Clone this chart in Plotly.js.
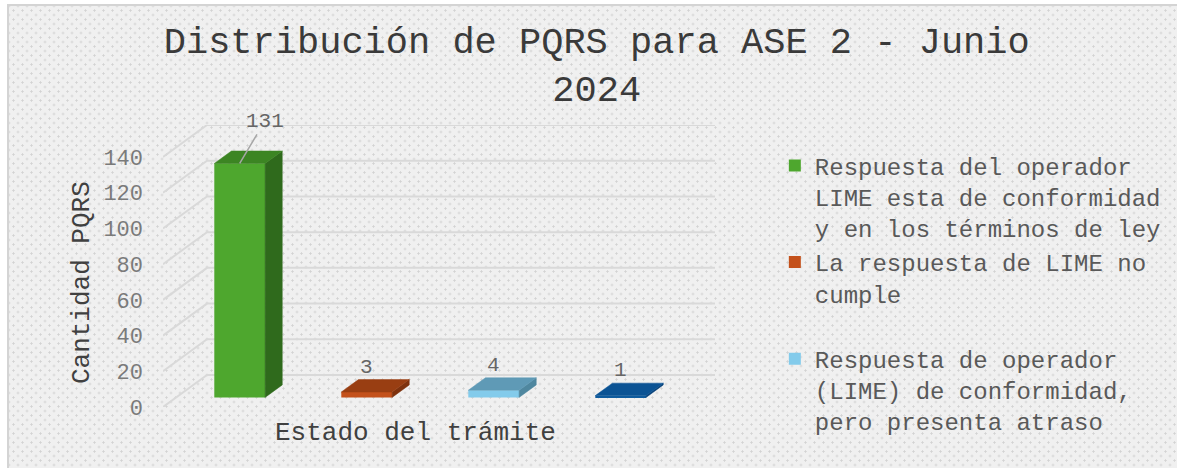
<!DOCTYPE html>
<html>
<head>
<meta charset="utf-8">
<script src="https://cdn.plot.ly/plotly-3.0.1.min.js"></script>
<style>
  html, body { margin: 0; padding: 0; background: #ffffff; width: 1177px; height: 468px; overflow: hidden; }
  #bg {
    position: absolute; left: 7px; top: 4px; width: 1170px; height: 464px;
    border-left: 2px solid #d4d4d4; border-top: 2px solid #d4d4d4;
    background-color: #f0f0f0;
    background-image:
      radial-gradient(circle, #d3d3d3 0.9px, rgba(0,0,0,0) 1.3px),
      radial-gradient(circle, #d3d3d3 0.9px, rgba(0,0,0,0) 1.3px);
    background-size: 9px 9px, 9px 9px;
    background-position: 0 0, 4.5px 4.5px;
  }
  #chart { position: absolute; left: 0; top: 0; width: 1177px; height: 468px; }
</style>
</head>
<body>
<div id="bg"></div>
<div id="chart"></div>
<script>
// ---------- data ----------
const categories = [
  'Respuesta del operador LIME esta de conformidad y en los términos de ley',
  'La respuesta de LIME no cumple',
  'Respuesta de operador (LIME) de conformidad, pero presenta atraso',
  'Otro'
];
const legendLabels = [
  'Respuesta del operador<br>LIME esta de conformidad<br>y en los términos de ley',
  'La respuesta de LIME no<br>cumple<br> ',
  'Respuesta de operador<br>(LIME) de conformidad,<br>pero presenta atraso',
  'Otro'
];
const values = [131, 3, 4, 1];
const yTicks = [0, 20, 40, 60, 80, 100, 120, 140];
const yTickText = ['0', '20', '40', '60', '80', '100', '120', '140'];

// ---------- styles ----------
const frontColors = ['#4ea72e', '#c4511b', '#83cbeb', '#0f5c9e'];
const topColors   = ['#3c8523', '#993e12', '#5f9ab6', '#0b5394'];
const sideColors  = ['#2f6a1c', '#7e320e', '#4f879f', '#08427a'];
const FONT = '"Courier New", "Liberation Mono", monospace';

// oblique projection parameters (axis units)
const DX = 0.3465;   // x shift for full depth
const DY = 17.92;    // y shift for full depth (value units)
const D0 = 0.30, D1 = 0.69;  // bar front / back depth fractions
const HALF = 0.2;    // half bar width
const n = values.length;
const left = -0.5, right = n - 0.5;

const traces = [];

// gridlines as shapes below the data: diagonal on the side wall + horizontal on the back wall
const shapes = yTicks.map(t => ({
  type: 'path', xref: 'x', yref: 'y', layer: 'below',
  path: 'M ' + left + ',' + t + ' L ' + (left + DX) + ',' + (t + DY) + ' L ' + (right + DX) + ',' + (t + DY),
  line: { color: '#d9d9d9', width: 2 }
}));

values.forEach((v, i) => {
  const xl0 = i - HALF + D0 * DX, xr0 = i + HALF + D0 * DX;
  const xl1 = i - HALF + D1 * DX, xr1 = i + HALF + D1 * DX;
  // side face
  traces.push({
    type: 'scatter', mode: 'lines', fill: 'toself',
    x: [xr0, xr1, xr1, xr0, xr0],
    y: [D0 * DY, D1 * DY, v + D1 * DY, v + D0 * DY, D0 * DY],
    line: { color: sideColors[i], width: 0.5 }, fillcolor: sideColors[i],
    showlegend: false, hoverinfo: 'skip'
  });
  // top face
  traces.push({
    type: 'scatter', mode: 'lines', fill: 'toself',
    x: [xl0, xr0, xr1, xl1, xl0],
    y: [v + D0 * DY, v + D0 * DY, v + D1 * DY, v + D1 * DY, v + D0 * DY],
    line: { color: topColors[i], width: 0.5 }, fillcolor: topColors[i],
    showlegend: false, hoverinfo: 'skip'
  });
  // front face (the bar itself)
  traces.push({
    type: 'bar', x: [i + D0 * DX], y: [v], base: [D0 * DY], width: [2 * HALF],
    marker: { color: frontColors[i], line: { width: 0 } },
    name: legendLabels[i], legendgroup: 'g' + i,
    showlegend: i < 3,
    hovertext: [categories[i] + ': ' + v], hoverinfo: 'text'
  });
});

// data labels
const annotations = values.map((v, i) => {
  if (i === 0) {
    return {
      x: i + D0 * DX, y: v + D0 * DY, xref: 'x', yref: 'y',
      text: String(v), showarrow: true, arrowhead: 0, arrowwidth: 1.5,
      arrowcolor: '#a6a6a6', ax: 25, ay: -42,
      font: { family: FONT, size: 21, color: '#666666' }
    };
  }
  return {
    x: i + D0 * DX, y: v + D1 * DY + 7, xref: 'x', yref: 'y',
    text: String(v), showarrow: false, yanchor: 'middle',
    font: { family: FONT, size: 21, color: '#666666' }
  };
});
// axis titles
annotations.push({
  xref: 'paper', yref: 'paper', x: 0.4575, y: -0.092,
  text: 'Estado del trámite', showarrow: false,
  xanchor: 'center', yanchor: 'middle',
  font: { family: FONT, size: 26, color: '#404040' }
});
annotations.push({
  xref: 'paper', yref: 'paper', x: -0.1465, y: 0.44,
  text: 'Cantidad PQRS', showarrow: false, textangle: -90,
  xanchor: 'center', yanchor: 'middle',
  font: { family: FONT, size: 26, color: '#404040' }
});

const layout = {
  width: 1177, height: 468,
  paper_bgcolor: 'rgba(0,0,0,0)', plot_bgcolor: 'rgba(0,0,0,0)',
  margin: { l: 163, r: 461, t: 125, b: 61, pad: 0 },
  barmode: 'overlay',
  title: {
    text: 'Distribución de PQRS para ASE 2 - Junio<br>2024',
    font: { family: FONT, size: 37, color: '#3a3a3a' },
    xref: 'container', yref: 'container', x: 0.507, xanchor: 'center',
    y: 1 - 53 / 468, yanchor: 'top', pad: { t: 0, b: 0 }
  },
  xaxis: {
    range: [left, right + DX], visible: false, fixedrange: true
  },
  yaxis: {
    range: [0, 140 + DY], tickvals: yTicks, ticktext: yTickText,
    showgrid: false, zeroline: false, showline: false, ticks: '',
    ticklabelstandoff: 19,
    tickfont: { family: FONT, size: 22, color: '#7a7a7a' }, fixedrange: true
  },
  showlegend: true,
  legend: {
    x: 1.1064, xanchor: 'left', y: 0.935, yanchor: 'top',
    xref: 'paper', yref: 'paper', maxheight: 420,
    valign: 'top', tracegroupgap: 4, traceorder: 'normal',
    bgcolor: 'rgba(0,0,0,0)',
    font: { family: FONT, size: 24, color: '#595959' }
  },
  shapes: shapes,
  annotations: annotations,
  hovermode: 'closest'
};

Plotly.newPlot('chart', traces, layout, { displayModeBar: false, responsive: false });
</script>
</body>
</html>
